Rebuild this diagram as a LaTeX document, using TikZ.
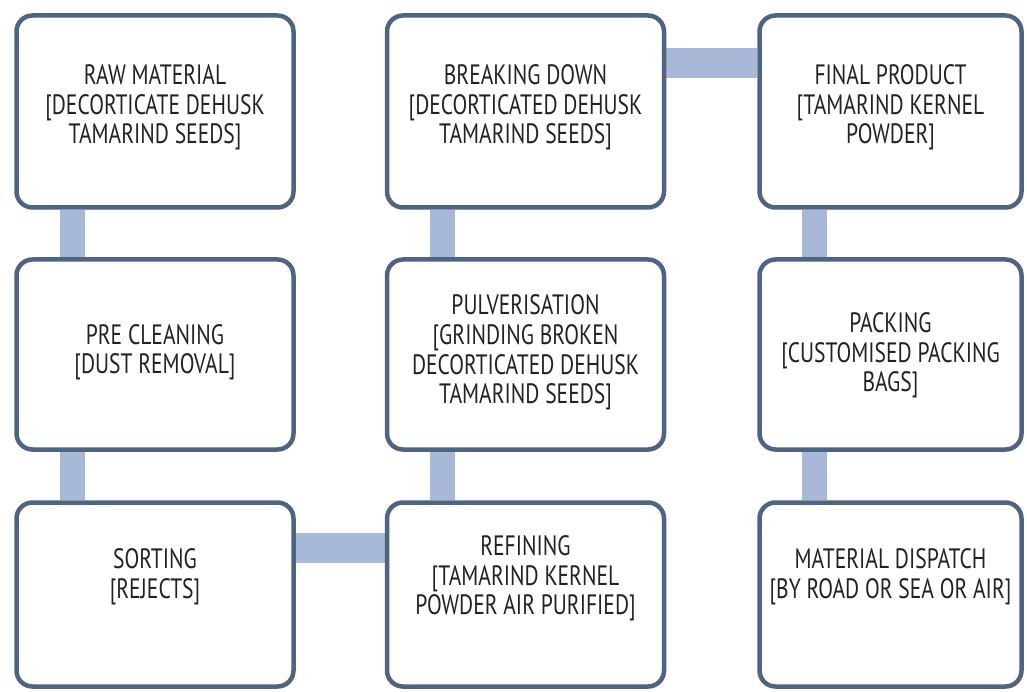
\documentclass[tikz,border=0pt]{standalone}
\usepackage{fontspec}
\setmainfont{PT Sans}[FakeStretch=0.77]
\usepackage{tikz}
\usetikzlibrary{positioning,backgrounds,shadows}
\usepackage{xcolor}
\definecolor{stageline}{HTML}{4D6583}
\definecolor{linkfill}{HTML}{A8B9D8}
\definecolor{txt}{HTML}{222222}

\begin{document}
\begin{tikzpicture}[
  x=1pt, y=-1pt,
  stage/.style={rectangle, rounded corners=16pt, draw=stageline, line width=4.5pt, fill=white,
    minimum width=277pt, drop shadow={shadow xshift=1pt, shadow yshift=-2pt, opacity=.2}},
  narrow/.style={minimum width=262pt},
  stagetext/.style={align=center, text=txt, font=\fontsize{28}{29.5}\selectfont},
  link/.style={draw=linkfill},
]
\useasboundingbox (0,0) rectangle (1027,692);

% first column
\node[stage, minimum height=192pt] (raw) at (155,111.5) {};
\node[stage, minimum height=190pt] (preclean) at (155,354.5) {};
\node[stage, minimum height=184pt] (sorting) at (155,594.5) {};

% second column
\node[stage, minimum height=192pt] (breaking) at (525.5,111.5) {};
\node[stage, minimum height=190pt] (pulver) at (525.5,354.5) {};
\node[stage, minimum height=184pt] (refining) at (525.5,594.5) {};

% third column
\node[stage, narrow, minimum height=192pt] (final) at (890.5,111.5) {};
\node[stage, narrow, minimum height=190pt] (packing) at (890.5,354.5) {};
\node[stage, narrow, minimum height=184pt] (dispatch) at (890.5,594.5) {};

\node[stagetext] (rawtxt) at ([yshift=4pt]raw.center) {RAW MATERIAL\\{[}DECORTICATE DEHUSK\\TAMARIND SEEDS{]}};
\node[stagetext] (precleantxt) at ([yshift=2pt]preclean.center) {PRE CLEANING\\{[}DUST REMOVAL{]}};
\node[stagetext] (sortingtxt) at ([yshift=18pt]sorting.center) {SORTING\\{[}REJECTS{]}};
\node[stagetext] (breakingtxt) at ([yshift=4pt]breaking.center) {BREAKING DOWN\\{[}DECORTICATED DEHUSK\\TAMARIND SEEDS{]}};
\node[stagetext] (pulvertxt) at ([yshift=2pt]pulver.center) {PULVERISATION\\{[}GRINDING BROKEN\\DECORTICATED DEHUSK\\TAMARIND SEEDS{]}};
\node[stagetext] (refiningtxt) at ([yshift=16pt]refining.center) {REFINING\\{[}TAMARIND KERNEL\\POWDER AIR PURIFIED{]}};
\node[stagetext] (finaltxt) at ([yshift=4pt]final.center) {FINAL PRODUCT\\{[}TAMARIND KERNEL\\POWDER{]}};
\node[stagetext] (packingtxt) at ([yshift=-1pt]packing.center) {PACKING\\{[}CUSTOMISED PACKING\\BAGS{]}};
\node[stagetext] (dispatchtxt) at ([yshift=18pt]dispatch.center) {MATERIAL DISPATCH\\{[}BY ROAD OR SEA OR AIR{]}};

\begin{scope}[on background layer]
\draw[link, line width=25pt] ([xshift=-82.5pt]raw.south) -- ([xshift=-82.5pt]preclean.north);
\draw[link, line width=25pt] ([xshift=-82.5pt]preclean.south) -- ([xshift=-82.5pt]sorting.north);
\draw[link, line width=30pt] ([yshift=46.5pt]sorting.east) -- ([yshift=46.5pt]refining.west);
\draw[link, line width=25pt] ([xshift=-83pt]refining.north) -- ([xshift=-83pt]pulver.south);
\draw[link, line width=25pt] ([xshift=-83pt]pulver.north) -- ([xshift=-83pt]breaking.south);
\draw[link, line width=30pt] ([yshift=48.5pt]breaking.east) -- ([yshift=48.5pt]final.west);
\draw[link, line width=25pt] ([xshift=-76pt]final.south) -- ([xshift=-76pt]packing.north);
\draw[link, line width=25pt] ([xshift=-76pt]packing.south) -- ([xshift=-76pt]dispatch.north);
\end{scope}

\end{tikzpicture}
\end{document}
